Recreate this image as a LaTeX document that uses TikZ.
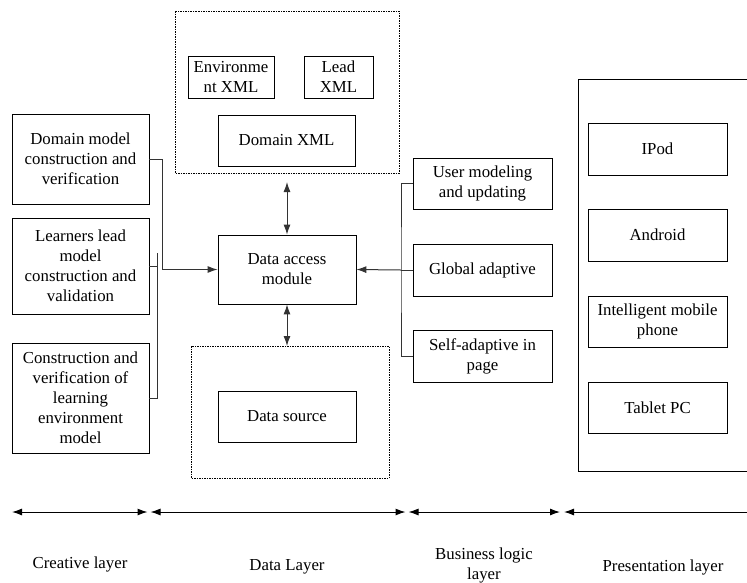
\documentclass[tikz,border=0pt]{standalone}
\usepackage{fontspec}
\setmainfont{Liberation Serif}
\usetikzlibrary{arrows.meta,positioning,shapes}

\tikzset{
  blk/.style={draw,line width=0.8pt,align=center,inner sep=1pt,
    font=\fontsize{16.8}{20}\selectfont},
  grp/.style={draw,dashed,dash pattern=on 1.5pt off 1pt,line width=0.6pt},
  wire/.style={line width=1pt,black!80},
  hd/.tip={Latex[length=10pt,width=7pt]},
  lbl/.style={align=center,font=\fontsize{16.8}{20}\selectfont}
}

\begin{document}
\begin{tikzpicture}[x=1pt,y=-1pt]
\useasboundingbox (0,0) rectangle (747,582);
% creative layer
\node[blk,minimum width=137,minimum height=90] (dom) at (80.5,159) {Domain model\\construction and\\verification};
\node[blk,minimum width=137,minimum height=96] (lrn) at (80.5,266) {Learners lead\\model\\construction and\\validation};
\node[blk,minimum width=137,minimum height=110] (envm) at (80.5,398) {Construction and\\verification of\\learning\\environment\\model};
% data layer
\draw[grp] (175,11) rectangle (399,173);
\node[blk,minimum width=86,minimum height=42] (envx) at (231,77) {Environme\\nt XML};
\node[blk,minimum width=69,minimum height=42] (leadx) at (338.5,77) {Lead\\XML};
\node[blk,minimum width=137,minimum height=51] (domx) at (286.5,140.5) {Domain XML};
\coordinate (xmltop) at (287,182);
\node[blk,minimum width=138,minimum height=69] (dam) at (287,269.5) {Data access\\module};
\draw[grp] (191,346) rectangle (389,478);
\coordinate (srctop) at (287,346);
\node[blk,minimum width=138,minimum height=51] (src) at (287,416.5) {Data source};
% business logic layer
\node[blk,minimum width=139,minimum height=51] (usr) at (482.5,183.5) {User modeling\\and updating};
\node[blk,minimum width=139,minimum height=52] (glb) at (482.5,270) {Global adaptive};
\node[blk,minimum width=139,minimum height=52] (slf) at (482.5,356) {Self-adaptive in\\page};
% presentation layer
\draw[line width=0.8pt] (750,79) -| (578,471) -- (750,471);
\node[blk,minimum width=139,minimum height=52] (ipod) at (657.5,149) {IPod};
\node[blk,minimum width=139,minimum height=52] (andr) at (657.5,235) {Android};
\node[blk,minimum width=139,minimum height=51] (phone) at (657.5,321.5) {Intelligent mobile\\phone};
\node[blk,minimum width=139,minimum height=51] (tab) at (657.5,407.5) {Tablet PC};

% connectors
\coordinate (lb) at (157,253);
\draw[wire] (lrn.east) -- (lrn.east -| lb);
\draw[wire] (lb) |- (envm.east);
\draw[wire,-hd] (dom.east) -- ++(13,0) |- (dam.west);
\draw[wire,hd-hd] (xmltop) -- (dam.north);
\draw[wire,hd-hd] (dam.south) -- (srctop);
\coordinate (rb) at (401,270);
\draw[wire] (usr.west) -| (rb) |- (slf.west);
\draw[wire] (glb.west) -- (rb);
\draw[wire,-hd] (rb) -- (dam.east);

% layer axis
\coordinate (a0) at (12,512);
\coordinate (a1) at (149,512);
\coordinate (a2) at (407,512);
\coordinate (a3) at (562,512);
\coordinate (a4) at (750,512);
\draw[wire,black,hd-hd] (a0) -- ([xshift=-1.5pt]a1);
\draw[wire,black,hd-hd] ([xshift=1.5pt]a1) -- ([xshift=-1.5pt]a2);
\draw[wire,black,hd-hd] ([xshift=1.5pt]a2) -- ([xshift=-2pt]a3);
\draw[wire,black,hd-] ([xshift=2pt]a3) -- (a4);
\node[lbl] (cre) at (80,564) {Creative layer};
\node[lbl] (dat) at (287,567) {Data Layer};
\node[lbl] (bus) at (484,565) {Business logic\\layer};
\node[lbl] (pre) at (663,567) {Presentation layer};
\end{tikzpicture}
\end{document}
